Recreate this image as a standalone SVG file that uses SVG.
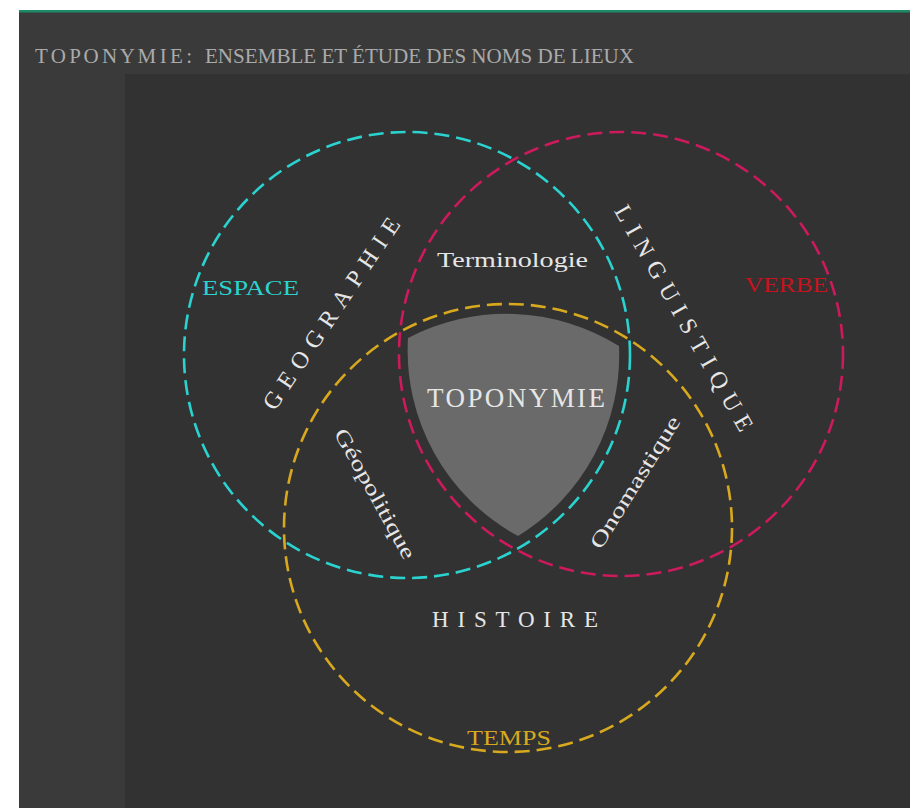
<svg xmlns="http://www.w3.org/2000/svg" width="910" height="808" viewBox="0 0 910 808">
<style>
.lbl{font-family:"Liberation Serif","Times New Roman",serif;fill:#e6e6e6;}
.circ{fill:none;stroke-width:2.6;stroke-dasharray:15 7;}
</style>
<rect x="0" y="0" width="910" height="808" fill="#ffffff"/>
<rect x="19" y="10" width="891" height="798" fill="#3a3a3a"/>
<rect x="19" y="10" width="891" height="2.5" fill="#1f8a68"/>
<rect x="125" y="74" width="785" height="734" fill="#323232"/>
<g id="title">
<text x="35" y="63" font-family="Liberation Serif, serif" font-size="21" fill="#aaaaaa" textLength="157" lengthAdjust="spacing">T O P O N Y M I E :</text>
<text x="205" y="63" font-family="Liberation Serif, serif" font-size="21" fill="#aaaaaa" textLength="429" lengthAdjust="spacingAndGlyphs">ENSEMBLE ET ÉTUDE DES NOMS DE LIEUX</text>
</g>
<g id="toponymie">
<path d="M 408 338 A 213 213 0 0 1 619 346 A 212 212 0 0 1 518 536 A 211 211 0 0 1 408 338 Z" fill="#6a6a6a"/>
<text class="lbl" x="427" y="407" font-size="27" textLength="178" lengthAdjust="spacing">TOPONYMIE</text>
</g>
<g id="connectors">
<circle id="geographie-circle" class="circ" cx="407" cy="355" r="223" stroke="#2ad3d0"/>
<circle id="linguistique-circle" class="circ" cx="621" cy="354" r="222" stroke="#cc1a5c"/>
<circle id="histoire-circle" class="circ" cx="508" cy="528" r="224" stroke="#d8a91e"/>
</g>
<g id="geographie">
<text x="202" y="295" font-family="Liberation Serif, serif" font-size="22" fill="#2ad3d0" textLength="97" lengthAdjust="spacingAndGlyphs">ESPACE</text>
<text class="lbl" font-size="24" text-anchor="middle" textLength="226" lengthAdjust="spacing" transform="translate(338 318) rotate(-56)">GEOGRAPHIE</text>
</g>
<g id="linguistique">
<text x="745" y="292" font-family="Liberation Serif, serif" font-size="22" fill="#c8121e" textLength="83" lengthAdjust="spacingAndGlyphs">VERBE</text>
<text class="lbl" font-size="24" text-anchor="middle" textLength="256" lengthAdjust="spacing" transform="translate(677 322) rotate(60.4)">LINGUISTIQUE</text>
</g>
<g id="histoire">
<text class="lbl" x="432" y="627" font-size="23" textLength="166" lengthAdjust="spacing">HISTOIRE</text>
<text x="467" y="745" font-family="Liberation Serif, serif" font-size="22" fill="#d8a91e" textLength="84" lengthAdjust="spacingAndGlyphs">TEMPS</text>
</g>
<g id="terminologie">
<text class="lbl" x="437" y="267" font-size="21" textLength="151" lengthAdjust="spacingAndGlyphs">Terminologie</text>
</g>
<g id="geopolitique">
<text class="lbl" font-size="21" text-anchor="middle" textLength="146" lengthAdjust="spacingAndGlyphs" transform="translate(369 497) rotate(61)">Géopolitique</text>
</g>
<g id="onomastique">
<text class="lbl" font-size="21" text-anchor="middle" textLength="152" lengthAdjust="spacingAndGlyphs" transform="translate(641 486) rotate(-58)">Onomastique</text>
</g>
</svg>
